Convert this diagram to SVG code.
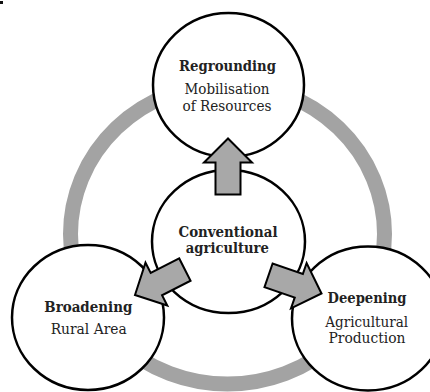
<svg xmlns="http://www.w3.org/2000/svg" width="430" height="392" viewBox="0 0 430 392">
  <defs>
    <style>
      .node { fill: #ffffff; stroke: #000000; stroke-width: 2.5; }
      .ring { fill: none; stroke: #a3a3a3; stroke-width: 15; }
      .arrow { fill: #a8a8a8; stroke: #000000; stroke-width: 2; stroke-linejoin: miter; }
      .t { font-family: "DejaVu Serif", "Liberation Serif", serif; font-size: 14px; fill: #222222; text-anchor: middle; }
      .b { font-weight: bold; }
    </style>
    <polygon id="blockArrow" points="0,0 -24,-24 -24,-12.5 -56,-12.5 -56,12.5 -24,12.5 -24,24"/>
  </defs>
  <rect x="0" y="1" width="3" height="3" fill="#111111"/>
  <ellipse class="ring" cx="227.5" cy="234" rx="157" ry="150"/>
  <g id="node-regrounding">
    <ellipse class="node" cx="228.5" cy="85" rx="75.5" ry="72"/>
    <text class="t b" x="227.5" y="71" textLength="97" lengthAdjust="spacingAndGlyphs">Regrounding</text>
    <text class="t" x="227" y="94" textLength="85" lengthAdjust="spacingAndGlyphs">Mobilisation</text>
    <text class="t" x="227" y="111" textLength="89" lengthAdjust="spacingAndGlyphs">of Resources</text>
  </g>
  <g id="node-broadening">
    <ellipse class="node" cx="88" cy="317.5" rx="76" ry="72.5"/>
    <text class="t b" x="88.3" y="311.5" textLength="88" lengthAdjust="spacingAndGlyphs">Broadening</text>
    <text class="t" x="88.7" y="334" textLength="76" lengthAdjust="spacingAndGlyphs">Rural Area</text>
  </g>
  <g id="node-deepening">
    <ellipse class="node" cx="368" cy="318.5" rx="76" ry="72"/>
    <text class="t b" x="367" y="302.5" textLength="79" lengthAdjust="spacingAndGlyphs">Deepening</text>
    <text class="t" x="366.7" y="326.5" textLength="83" lengthAdjust="spacingAndGlyphs">Agricultural</text>
    <text class="t" x="367" y="342.5" textLength="77" lengthAdjust="spacingAndGlyphs">Production</text>
  </g>
  <g id="node-conventional">
    <ellipse class="node" cx="228.5" cy="241.5" rx="76.5" ry="71.5"/>
    <text class="t b" x="228" y="236.5" textLength="99" lengthAdjust="spacingAndGlyphs">Conventional</text>
    <text class="t b" x="227.3" y="253" textLength="83" lengthAdjust="spacingAndGlyphs">agriculture</text>
  </g>
  <g id="connectors">
    <use href="#blockArrow" class="arrow" transform="translate(228,138.5) rotate(-90)"/>
    <use href="#blockArrow" class="arrow" transform="translate(135,295) rotate(153)"/>
    <use href="#blockArrow" class="arrow" transform="translate(321.5,293.5) rotate(19)"/>
  </g>
</svg>
